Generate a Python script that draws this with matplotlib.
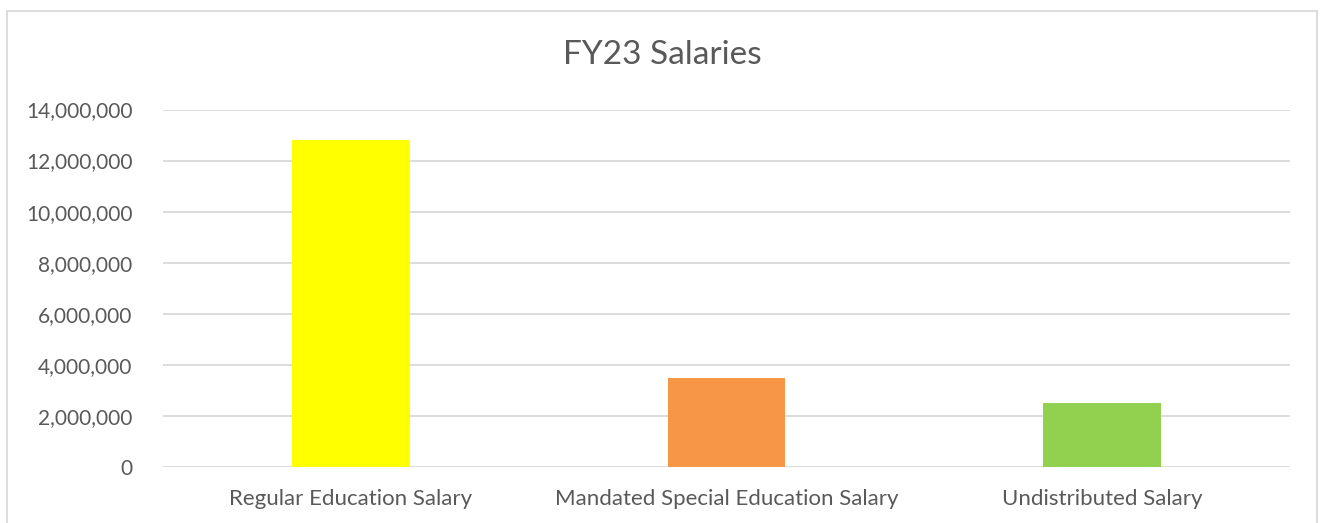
import matplotlib
matplotlib.use("Agg")
import matplotlib.pyplot as plt
from matplotlib.patches import Rectangle
from matplotlib.ticker import FuncFormatter

categories = ["Regular Education Salary", "Mandated Special Education Salary", "Undistributed Salary"]
values = [12800000, 3490000, 2510000]
colors = ["#FFFF00", "#F79646", "#92D050"]
yticks = [0, 2000000, 4000000, 6000000, 8000000, 10000000, 12000000, 14000000]

plt.rcParams['font.family'] = ['Lato', 'DejaVu Sans']
W, H = 1321, 523
fig = plt.figure(figsize=(W/100, H/100), dpi=100)
fig.patch.set_facecolor("white")

# chart border
fig.patches.append(Rectangle((7/W, -0.1), (1317-7)/W, 1.1 - 11/H, transform=fig.transFigure,
                             fill=False, edgecolor="#d9d9d9", linewidth=1.3))

ax = fig.add_axes([163/W, 1-467/H, (1290-163)/W, (467-109.5)/H])
x = range(len(categories))
ax.bar(x, values, width=0.314, color=colors, zorder=3)
ax.set_xlim(-0.5, 2.5)
ax.set_ylim(0, 14000000)
ax.set_yticks(yticks)
ax.yaxis.set_major_formatter(FuncFormatter(lambda v, p: f"{int(v):,}"))
ax.set_xticks(list(x))
ax.set_xticklabels(categories)
ax.grid(axis="y", color="#d9d9d9", linewidth=1.3, zorder=0)
for s in ax.spines.values():
    s.set_visible(False)
ax.tick_params(axis="both", length=0, colors="#595959")
ax.tick_params(axis="y", pad=22, labelsize=15)
ax.tick_params(axis="x", pad=16, labelsize=16)
fig.text(662/W, 1-55/H, "FY23 Salaries", ha="center", va="center", fontsize=24, color="#595959")

fig.savefig("out.png", dpi=100, facecolor="white")
